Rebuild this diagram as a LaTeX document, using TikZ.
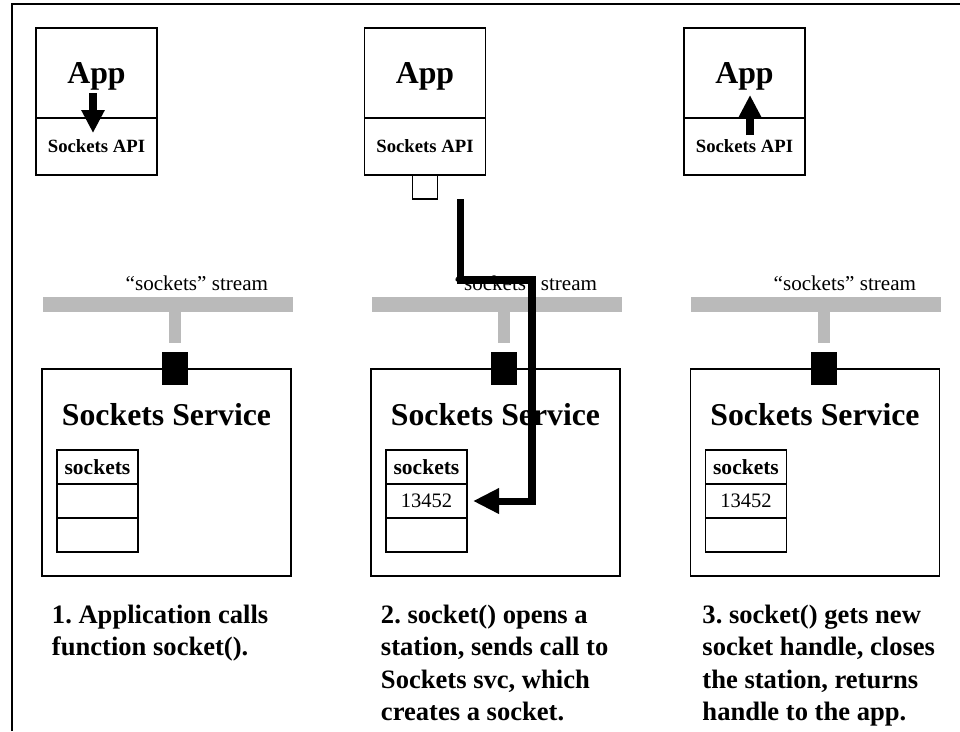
\documentclass[tikz,border=0pt]{standalone}
\usepackage{fontspec}
\setmainfont{Liberation Serif}
\usetikzlibrary{positioning,calc,arrows.meta}

\begin{document}
\begin{tikzpicture}[x=0.025cm, y=-0.025cm, line width=1.1pt, inner sep=0pt, outer sep=0pt]
\tikzstyle{appbox}=[draw, minimum width=3.025cm, minimum height=2.25cm, text depth=0pt, font=\fontsize{22.6}{26}\selectfont\bfseries]
\tikzstyle{apibox}=[draw, minimum width=3.025cm, minimum height=1.425cm, font=\fontsize{13.3}{16}\selectfont\bfseries]
\tikzstyle{station}=[draw, fill=white, minimum width=0.625cm, minimum height=0.6cm]
\tikzstyle{streambar}=[fill=black!27, minimum width=6.25cm, minimum height=0.375cm]
\tikzstyle{streamlabel}=[font=\fontsize{15}{18}\selectfont]
\tikzstyle{feedline}=[draw=black!27, line width=0.3cm, shorten >=0.225cm]
\tikzstyle{portbox}=[fill=black, minimum width=0.65cm, minimum height=0.825cm]
\tikzstyle{svcbox}=[draw, minimum width=6.225cm, minimum height=5.175cm]
\tikzstyle{svctitle}=[font=\fontsize{22.6}{26}\selectfont\bfseries]
\tikzstyle{tblcell}=[draw, minimum width=2.025cm, minimum height=0.85cm, font=\fontsize{14.6}{17}\selectfont]
\tikzstyle{steptext}=[align=left, font=\fontsize{18.9}{23}\selectfont\bfseries]
\tikzstyle{apicall}=[line width=5pt, -{Triangle[length=0.575cm, width=0.55cm]}]
\tikzstyle{callarrow}=[line width=5pt, shorten >=0.15cm, -{Triangle[length=0.65cm, width=0.6cm]}]

\useasboundingbox (0,0) rectangle (960,731);
\draw[line width=1.4pt] (12,731) -- (12,4) -- (960,4);

% 1. the call
\node[appbox] (app1) at (96.5,73) {App};
\node[apibox, below=0pt of app1] (api1) {Sockets API};
\node[streambar] (bar1) at (168,304.5) {};
\node[streamlabel, above left=0.15cm and 0.625cm of bar1.north east] (lbl1) {“sockets” stream};
\node[svcbox] (svc1) at (166.5,472.5) {};
\node[portbox] (port1) at ($(svc1.north)+(8.5,0)$) {};
\draw[feedline] (bar1.south -| port1.north) -- (port1.north);
\node[svctitle, below=0.85cm of svc1.north] (title1) {Sockets Service};
\node[tblcell, font=\fontsize{15.3}{18}\selectfont\bfseries, below right=2.025cm and 0.375cm of svc1.north west] (hdr1) {sockets};
\node[tblcell, below=0pt of hdr1] (cell1a) {};
\node[tblcell, below=0pt of cell1a] (cell1b) {};
\draw[apicall] ($(app1.south)+(-3.5,-25)$) -- ($(app1.south)+(-3.5,15)$);
\node[steptext, below right=0.725cm and 0.25cm of svc1.south west] (step1) {1.\ Application calls\\function socket().};

% 2. station and socket
\node[appbox] (app2) at (425,73) {App};
\node[apibox, below=0pt of app2] (api2) {Sockets API};
\node[station, below=0pt of api2] (station2) {};
\node[streambar] (bar2) at (497,304.5) {};
\node[streamlabel, above left=0.15cm and 0.625cm of bar2.north east] (lbl2) {“sockets” stream};
\node[svcbox] (svc2) at (495.5,472.5) {};
\node[portbox] (port2) at ($(svc2.north)+(8.5,0)$) {};
\draw[feedline] (bar2.south -| port2.north) -- (port2.north);
\node[svctitle, below=0.85cm of svc2.north] (title2) {Sockets Service};
\node[tblcell, font=\fontsize{15.3}{18}\selectfont\bfseries, below right=2.025cm and 0.375cm of svc2.north west] (hdr2) {sockets};
\node[tblcell, below=0pt of hdr2] (cell2a) {13452};
\node[tblcell, below=0pt of cell2a] (cell2b) {};
\coordinate (callstart) at ($(station2.south)+(35.5,0)$);
\coordinate (callbend) at (532,280);
\draw[callarrow] (callstart) |- (callbend) |- (cell2a.east);
\node[steptext, below right=0.725cm and 0.25cm of svc2.south west] (step2) {2.\ socket() opens a\\station, sends call to\\Sockets svc, which\\creates a socket.};

% 3. handle back
\node[appbox] (app3) at (744.5,73) {App};
\node[apibox, below=0pt of app3] (api3) {Sockets API};
\node[streambar] (bar3) at (816,304.5) {};
\node[streamlabel, above left=0.15cm and 0.625cm of bar3.north east] (lbl3) {“sockets” stream};
\node[svcbox] (svc3) at (815,472.5) {};
\node[portbox] (port3) at ($(svc3.north)+(8.5,0)$) {};
\draw[feedline] (bar3.south -| port3.north) -- (port3.north);
\node[svctitle, below=0.85cm of svc3.north] (title3) {Sockets Service};
\node[tblcell, font=\fontsize{15.3}{18}\selectfont\bfseries, below right=2.025cm and 0.375cm of svc3.north west] (hdr3) {sockets};
\node[tblcell, below=0pt of hdr3] (cell3a) {13452};
\node[tblcell, below=0pt of cell3a] (cell3b) {};
\draw[apicall] ($(app3.south)+(5.5,17)$) -- ($(app3.south)+(5.5,-23)$);
\node[steptext, below right=0.725cm and 0.3cm of svc3.south west] (step3) {3.\ socket() gets new\\socket handle, closes\\the station, returns\\handle to the app.};
\end{tikzpicture}
\end{document}
